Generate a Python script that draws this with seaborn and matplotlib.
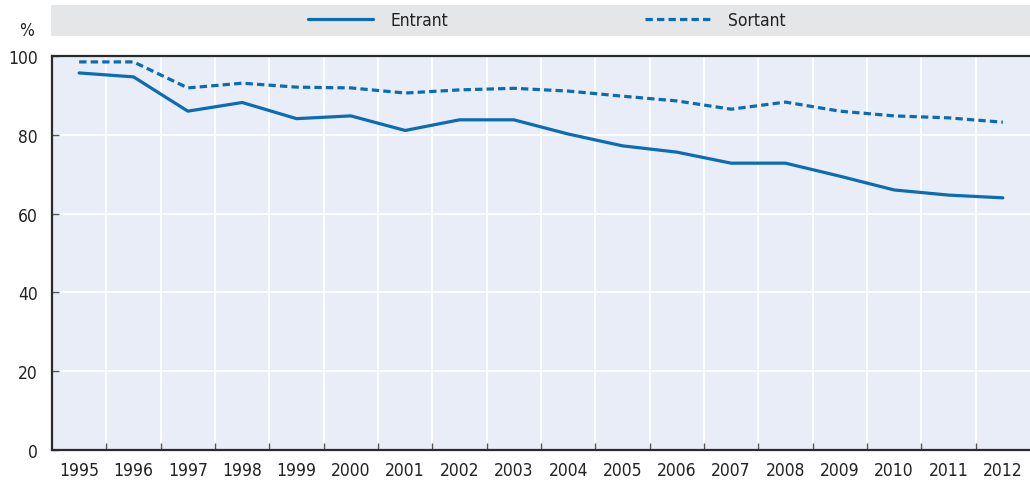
import numpy as np
import pandas as pd
import matplotlib
matplotlib.use("Agg")
import matplotlib.pyplot as plt
from matplotlib import font_manager
from matplotlib.lines import Line2D
import seaborn as sns

# Data
years = [str(y) for y in range(1995, 2013)]
entrant = [95.7, 94.7, 86.0, 88.2, 84.1, 84.8, 81.1, 83.8, 83.8, 80.2,
           77.2, 75.6, 72.8, 72.8, 69.5, 66.0, 64.7, 64.0]
sortant = [98.5, 98.5, 91.9, 93.1, 92.1, 91.9, 90.6, 91.4, 91.8, 91.1,
           89.8, 88.6, 86.5, 88.3, 86.0, 84.8, 84.3, 83.2]
series_names = ["Entrant", "Sortant"]
y_ticks = [0, 20, 40, 60, 80, 100]

blue = "#0a6cb5"
bg = "#e9edf7"
legend_bg = "#e5e6e8"
dark = "#2b2b2b"

sns.set_theme(style="white")

# look for a narrow font, the reference uses one
fonts = font_manager.fontManager.ttflist
names = {f.name for f in fonts}
stretch = "normal"
if "Liberation Sans Narrow" in names:
    family, fs = "Liberation Sans Narrow", 14
elif any(f.name == "DejaVu Sans" and "ondensed" in f.fname for f in fonts):
    family, fs, stretch = "DejaVu Sans", 12.5, "condensed"
else:
    family, fs = "Liberation Sans", 12.2
plt.rcParams["font.family"] = [family, "DejaVu Sans"]
plt.rcParams["font.stretch"] = stretch

df = pd.DataFrame({
    "x": list(range(len(years))) * 2,
    "value": entrant + sortant,
    "series": [series_names[0]] * len(years) + [series_names[1]] * len(years),
})

fig = plt.figure(figsize=(10.3, 4.85), dpi=100)
ax = fig.add_axes([52 / 1030, 34 / 485, 1 - 52 / 1030, 394 / 485])
ax.set_facecolor(bg)

sns.lineplot(data=df, x="x", y="value", hue="series", style="series",
             palette=[blue, blue], dashes=[(None, None), (2.3, 1.3)],
             linewidth=2.3, legend=False, ax=ax)

ax.set_xlim(-0.5, len(years) - 0.5)
ax.set_ylim(0, 100)
ax.set_xticks(range(len(years)))
ax.set_xticklabels(years)
ax.set_xticks(np.arange(0.5, len(years) - 0.5, 1), minor=True)
ax.set_yticks(y_ticks)
ax.set_xlabel("")
ax.set_ylabel("")

ax.grid(False)
ax.grid(True, which="minor", axis="x", color="white", linewidth=1.3)
ax.grid(True, which="major", axis="y", color="white", linewidth=1.3)
ax.set_axisbelow(True)

ax.tick_params(axis="x", which="major", length=0, pad=8, labelsize=fs, colors="#222222")
ax.tick_params(axis="x", which="minor", direction="in", length=5, width=1, color="#555555", bottom=True)
ax.tick_params(axis="y", which="major", direction="in", length=5, width=1, color="#555555",
               pad=10, labelsize=fs, colors="#222222", left=True)

for side in ["left", "bottom", "top"]:
    ax.spines[side].set_visible(True)
    ax.spines[side].set_color(dark)
    ax.spines[side].set_linewidth(1.6)
ax.spines["right"].set_visible(False)

fig.text(27 / 1030, 1 - 31 / 485, "%", fontsize=fs, color="#222222", ha="center", va="center")

# Legend strip
lax = fig.add_axes([51 / 1030, 1 - 37 / 485, 1 - 51 / 1030, 31 / 485])
lax.set_facecolor(legend_bg)
lax.set_xticks([])
lax.set_yticks([])
for s in lax.spines.values():
    s.set_visible(False)
handles = [Line2D([], [], color=blue, linewidth=2.3),
           Line2D([], [], color=blue, linewidth=2.3, linestyle=(0, (2.3, 1.3)))]
for h, lab, x0 in zip(handles, series_names, [0.255, 0.6]):
    leg = lax.legend([h], [lab], loc="center left", frameon=False, fontsize=fs,
                     handlelength=3.75, handletextpad=1.0, borderaxespad=0,
                     bbox_to_anchor=(x0, 0.5))
    for t in leg.get_texts():
        t.set_color("#222222")
    lax.add_artist(leg)
lax.legend_ = None

fig.savefig("out.png", dpi=100, facecolor="white")
